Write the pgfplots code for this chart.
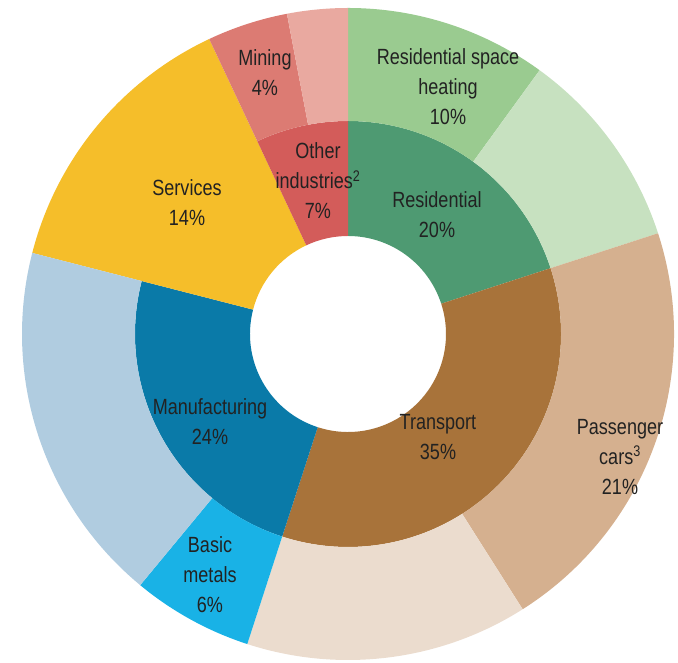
\documentclass[border=0pt]{standalone}
\usepackage{pgfplots}
\pgfplotsset{compat=1.18}
\usepackage{fontspec}
\setmainfont{Liberation Sans}[FakeStretch=0.82]

\definecolor{resid}{HTML}{4E9A72}
\definecolor{residheat}{HTML}{9ACB90}
\definecolor{residother}{HTML}{C7E1C0}
\definecolor{transp}{HTML}{A8733A}
\definecolor{cars}{HTML}{D5B08F}
\definecolor{transpother}{HTML}{EBDCCE}
\definecolor{manuf}{HTML}{0A7AA8}
\definecolor{metals}{HTML}{19B2E6}
\definecolor{manufother}{HTML}{B0CCE0}
\definecolor{services}{HTML}{F5BE2A}
\definecolor{otherind}{HTML}{D35C5A}
\definecolor{mining}{HTML}{DC7B73}
\definecolor{otherindrest}{HTML}{E9A9A0}
\definecolor{txt}{HTML}{222222}

\tikzset{lbl/.style={font=\fontsize{22}{30}\selectfont, text=txt, align=center}}

% slice from cumulative share #1 to #2 (percent, clockwise from top),
% between radii #3 and #4 (pt), in colour #5
\newcommand{\slice}[5]{%
  \fill[#5, overlay] ([shift={({90-3.6*#1}:#4pt)}]axis cs:348,329)
    arc[start angle={90-3.6*#1}, end angle={90-3.6*#2}, radius=#4pt]
    -- ([shift={({90-3.6*#2}:#3pt)}]axis cs:348,329)
    arc[start angle={90-3.6*#2}, end angle={90-3.6*#1}, radius=#3pt]
    -- cycle;}

\begin{document}
\begin{tikzpicture}
\begin{axis}[
  x=1pt, y=1pt,
  xmin=0, xmax=678, ymin=0, ymax=663,
  scale only axis,
  hide axis,
  clip=false,
]
\path (rel axis cs:0,0) rectangle (rel axis cs:1,1);
% inner ring: sectors
\slice{0}{20}{98}{213}{resid}
\slice{20}{55}{98}{213}{transp}
\slice{55}{79}{98}{213}{manuf}
\slice{79}{93}{98}{326}{services}
\slice{93}{100}{98}{213}{otherind}
% outer ring: sub-sectors
\slice{0}{10}{213}{326}{residheat}
\slice{10}{20}{213}{326}{residother}
\slice{20}{41}{213}{326}{cars}
\slice{41}{55}{213}{326}{transpother}
\slice{55}{61}{213}{326}{metals}
\slice{61}{79}{213}{326}{manufother}
\slice{93}{97}{213}{326}{mining}
\slice{97}{100}{213}{326}{otherindrest}

\node[lbl] at (axis cs:265,590) {Mining\\4\%};
\node[lbl] at (axis cs:448,576) {Residential space\\heating\\10\%};
\node[lbl] at (axis cs:318,482) {Other\\industries\textsuperscript{2}\\7\%};
\node[lbl] at (axis cs:437,448) {Residential\\20\%};
\node[lbl] at (axis cs:187,460) {Services\\14\%};
\node[lbl] at (axis cs:210,241) {Manufacturing\\24\%};
\node[lbl] at (axis cs:438,226) {Transport\\35\%};
\node[lbl] at (axis cs:620,206) {Passenger\\cars\textsuperscript{3}\\21\%};
\node[lbl] at (axis cs:210,88) {Basic\\metals\\6\%};
\end{axis}
\end{tikzpicture}
\end{document}
